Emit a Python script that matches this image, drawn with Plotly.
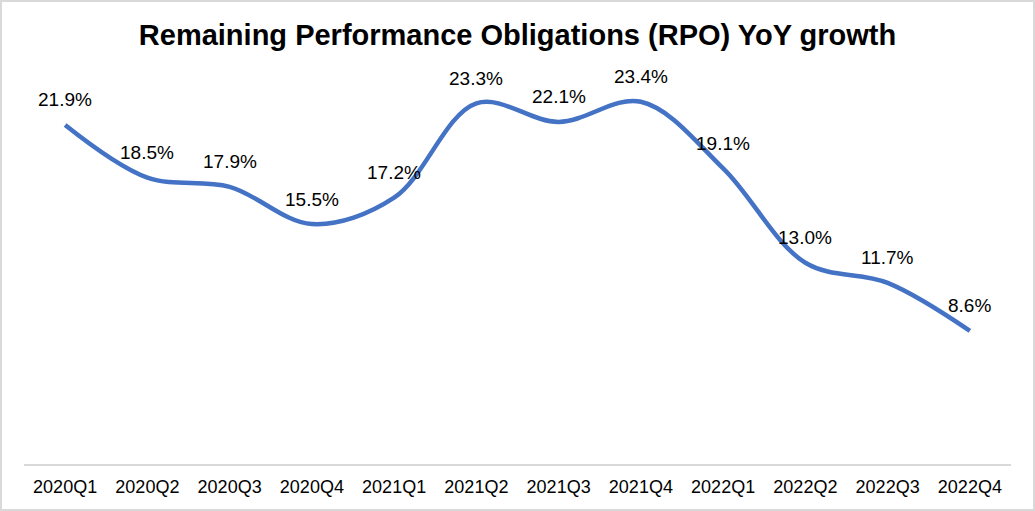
import plotly.graph_objects as go

quarters = ["2020Q1", "2020Q2", "2020Q3", "2020Q4", "2021Q1", "2021Q2",
            "2021Q3", "2021Q4", "2022Q1", "2022Q2", "2022Q3", "2022Q4"]
rpo_growth = [21.9, 18.5, 17.9, 15.5, 17.2, 23.3, 22.1, 23.4, 19.1, 13.0, 11.7, 8.6]
labels = [f"{v:.1f}%" for v in rpo_growth]

W, H = 1035, 511
ml, mr, mt, mb = 24, 24, 77, 47
pw, ph = W - ml - mr, H - mt - mb
FONT = "Liberation Sans, Arial"

fig = go.Figure()
fig.add_trace(go.Scatter(
    x=quarters, y=rpo_growth, mode="lines",
    line=dict(color="#4472C4", width=4.5, shape="spline", smoothing=1.0),
    hoverinfo="skip", showlegend=False, cliponaxis=False,
))
for q, v, t in zip(quarters, rpo_growth, labels):
    fig.add_annotation(x=q, y=v, text=t, showarrow=False, yshift=25,
                       yanchor="middle", xanchor="center",
                       font=dict(family=FONT, size=19, color="#000000"))

fig.add_shape(type="rect", xref="paper", yref="paper",
              x0=-(ml - 1) / pw, x1=1 + (mr - 1) / pw,
              y0=-(mb - 1) / ph, y1=1 + (mt - 1) / ph,
              line=dict(color="#d9d9d9", width=2), layer="above")

fig.update_layout(
    width=W, height=H,
    margin=dict(l=ml, r=mr, t=mt, b=mb),
    paper_bgcolor="white", plot_bgcolor="white",
    title=dict(text="<b>Remaining Performance Obligations (RPO) YoY growth</b>",
               x=0.5, xanchor="center", y=1 - 35 / H, yanchor="middle",
               font=dict(family=FONT, size=29, color="#000000")),
    xaxis=dict(range=[-0.5, len(quarters) - 0.5], showgrid=False, showline=True,
               linecolor="#d9d9d9", linewidth=2, ticks="", ticklabelstandoff=5,
               tickfont=dict(family=FONT, size=18, color="#000000"),
               fixedrange=True),
    yaxis=dict(range=[0, 25], showgrid=False, showline=False, zeroline=False,
               showticklabels=False, ticks="", fixedrange=True),
)

fig.write_html("out.html", config={"displayModeBar": False},
               post_script="document.body.style.margin='0';")
